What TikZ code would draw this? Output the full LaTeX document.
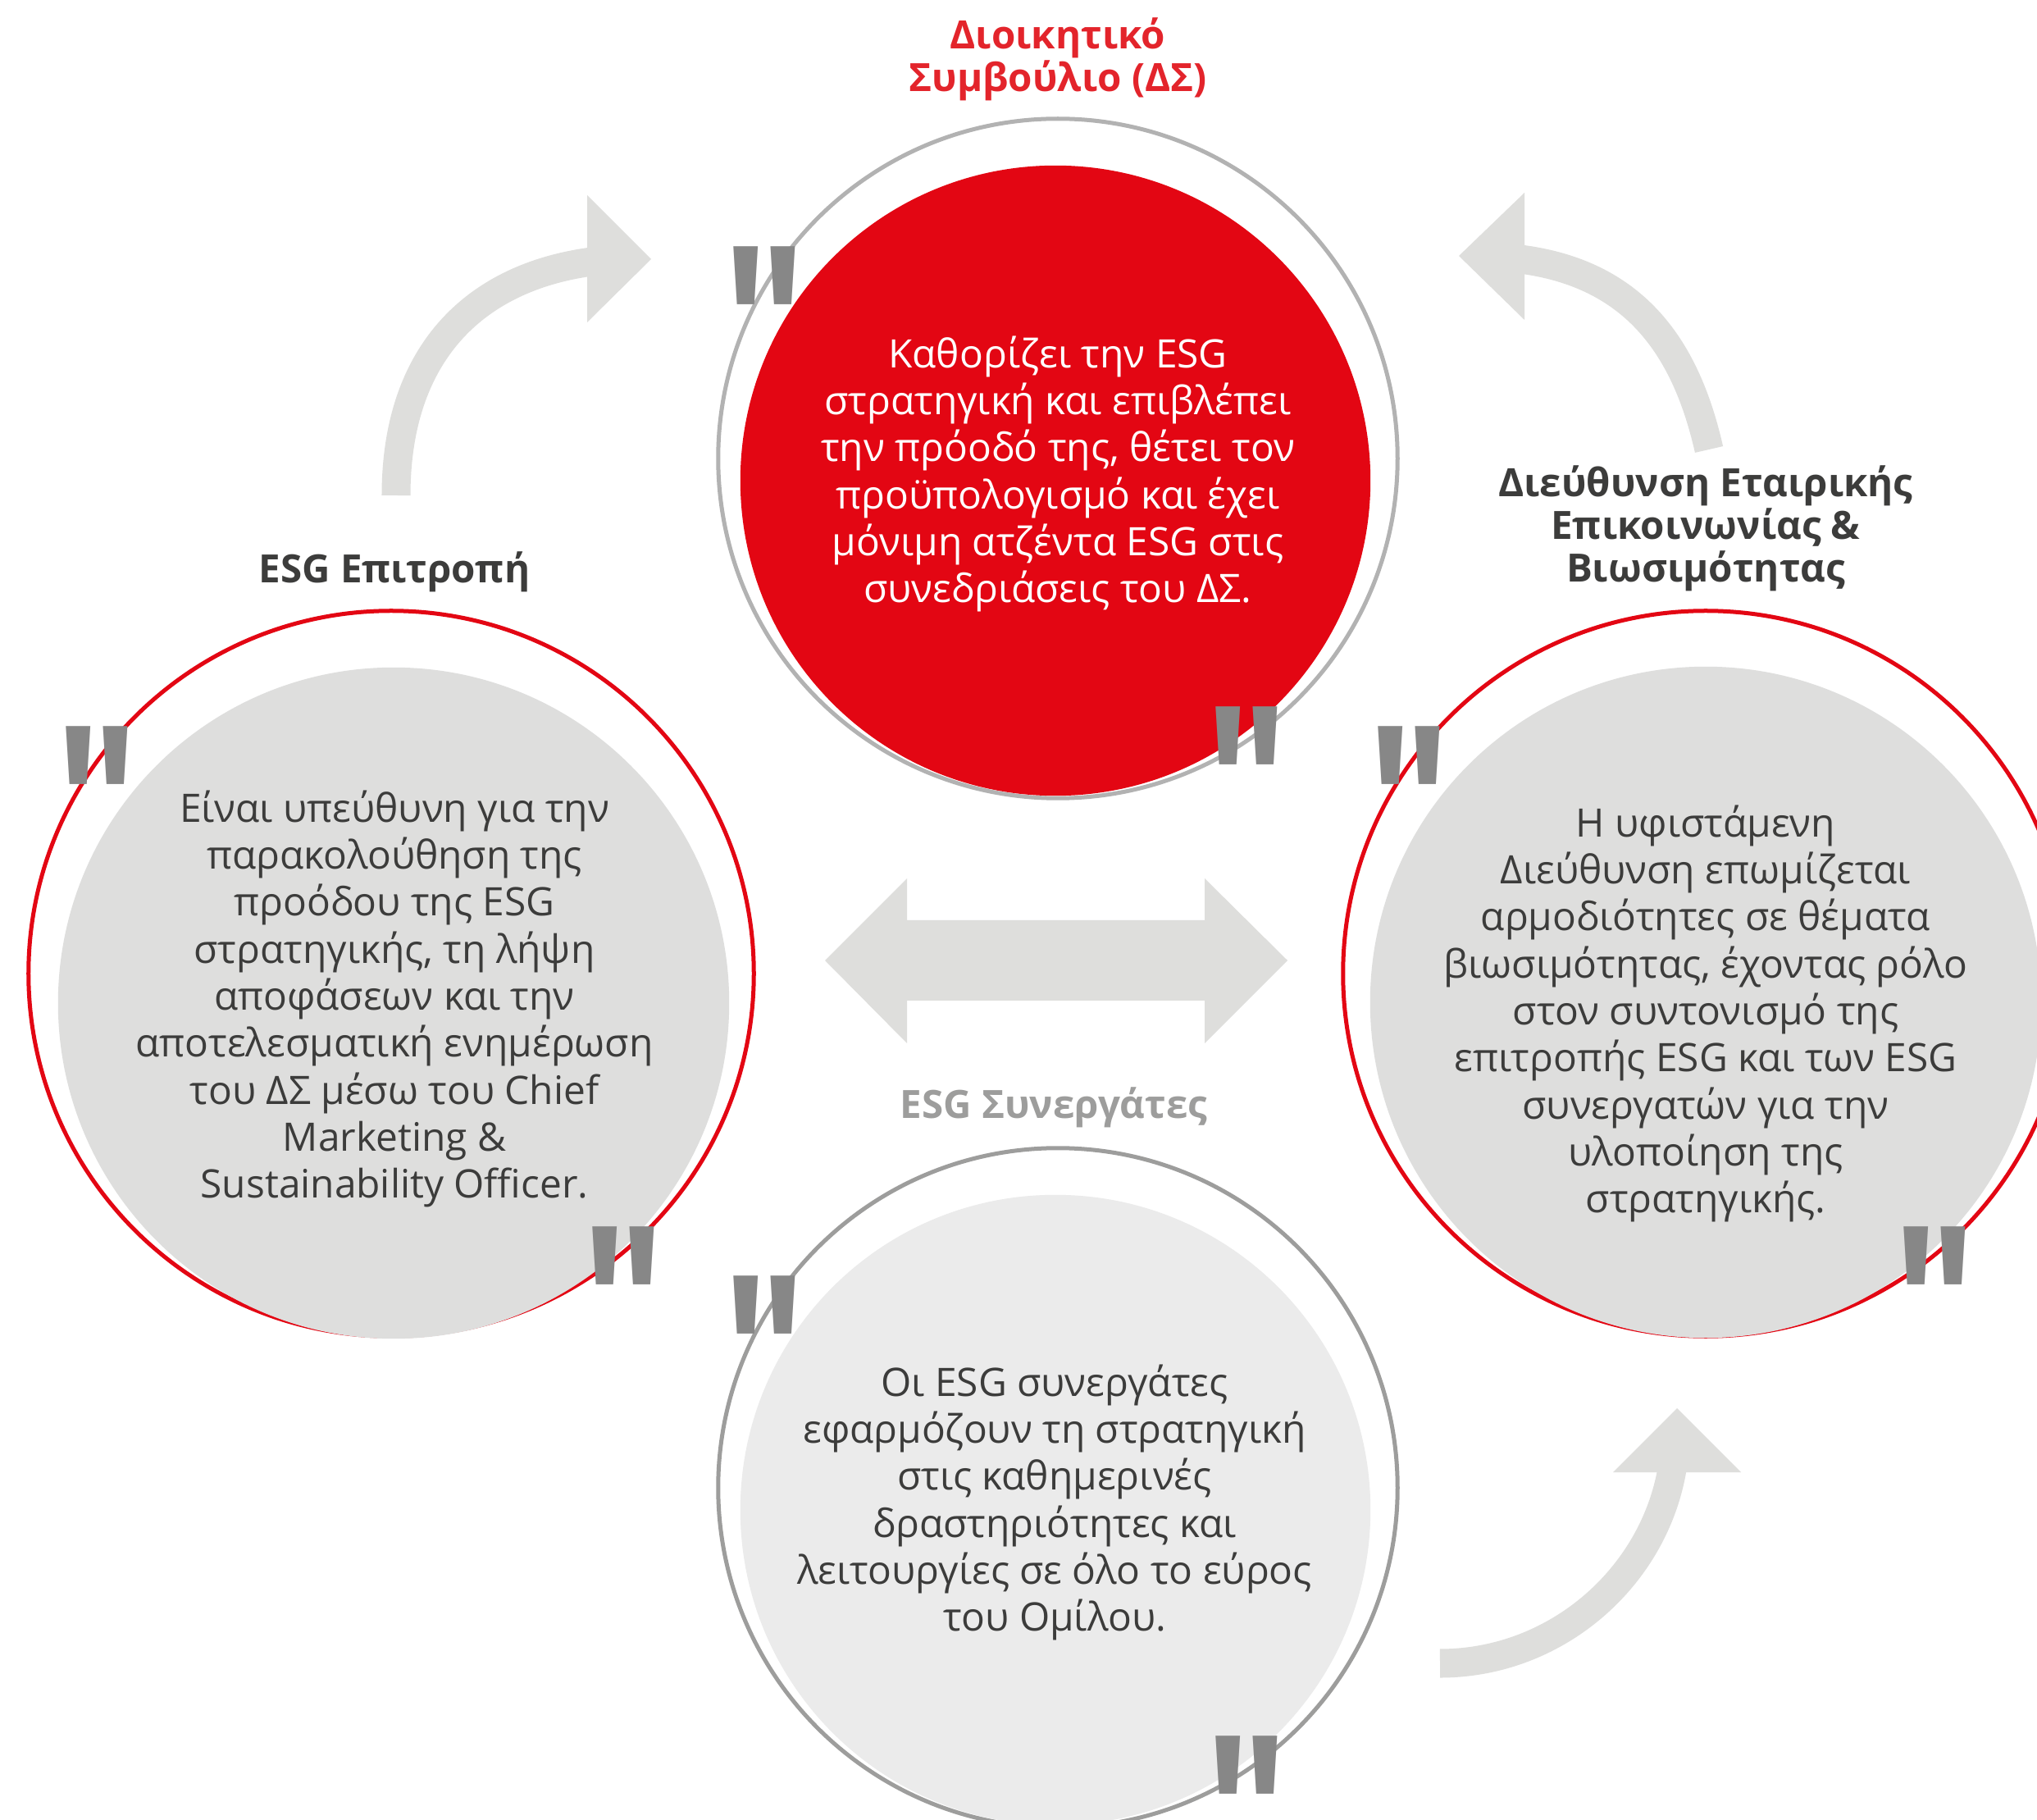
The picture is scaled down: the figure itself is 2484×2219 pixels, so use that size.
\documentclass[tikz,border=0pt]{standalone}
\usepackage{fontspec}
\setmainfont{Open Sans}
\newfontfamily\quotefont{Open Sans}[Ligatures=TeXOff]
\definecolor{esgred}{HTML}{E30613}
\definecolor{titlered}{HTML}{E3242B}
\definecolor{darktext}{HTML}{3C3C3B}
\definecolor{discgray}{HTML}{DEDEDD}
\definecolor{paledisc}{HTML}{EBEBEB}
\definecolor{arrowgray}{HTML}{DEDEDC}
\definecolor{ringgray}{HTML}{B2B2B2}
\definecolor{ringdark}{HTML}{9D9D9C}
\definecolor{quotegray}{HTML}{878787}
\tikzset{
  ring/.style={circle, draw, line width=0.05cm, minimum size=#1, inner sep=0pt},
  disc/.style={circle, minimum size=#1, inner sep=0pt},
  body/.style={align=center, font=\fontsize{13.6}{16.3}\selectfont},
  heading/.style={align=center, font=\fontsize{13.5}{14.8}\selectfont\bfseries},
  quotemark/.style={anchor=north west, inner sep=0pt, text=quotegray,
    font=\quotefont\fontsize{78}{78}\selectfont\bfseries},
  sweep/.style={draw=arrowgray, line width=0.35cm},
  arrowhead/.style={fill=arrowgray}
}
\newcommand{\qmark}{\raisebox{-0.449em}[0.265em][0pt]{\scalebox{0.8}[1]{"}}}
\begin{document}
\begin{tikzpicture}[x=0.01cm, y=-0.01cm]
\path[use as bounding box, fill=white] (0,0) rectangle (2484,2219);

% arrows
\coordinate (tlstart) at (483,604);
\coordinate (tlend) at (730,318);
\draw[sweep] (tlstart) .. controls (483,430) and (580,335) .. (tlend);
\fill[arrowhead] (716,238) -- (794,316) -- (716,393) -- cycle;

\coordinate (trstart) at (2084,548);
\coordinate (trend) at (1845,315);
\draw[sweep] (trstart) .. controls (2055,420) and (1990,330) .. (trend);
\fill[arrowhead] (1859,235) -- (1779,312) -- (1859,390) -- cycle;

\coordinate (brstart) at (1756,2028);
\coordinate (brend) at (2040,1785);
\draw[sweep] (brstart) .. controls (1900,2028) and (2020,1920) .. (brend);
\fill[arrowhead] (1967,1795) -- (2045,1717) -- (2123,1795) -- cycle;

\fill[arrowhead] (1006,1171) -- (1106,1071) -- (1106,1122) -- (1469,1122) -- (1469,1071)
  -- (1570,1171) -- (1469,1272) -- (1469,1220) -- (1106,1220) -- (1106,1272) -- cycle;

% circles
\node[ring=8.28cm, draw=ringgray] (boardring) at (1290,559) {};
\node[disc=7.68cm, fill=esgred] (board) at (1287,586) {};
\node[body, text=white] (boardtext) at (1290,578)
  {Καθορίζει την ESG\\στρατηγική και επιβλέπει\\την πρόοδό της, θέτει τον\\προϋπολογισμό και έχει\\μόνιμη ατζέντα ESG στις\\συνεδριάσεις του ΔΣ.};

\node[ring=8.84cm, draw=esgred] (committeering) at (477,1187) {};
\node[disc=8.18cm, fill=discgray] (committee) at (480,1223) {};
\node[body, text=darktext] (committeetext) at (481,1218)
  {Είναι υπεύθυνη για την\\παρακολούθηση της\\προόδου της ESG\\στρατηγικής, τη λήψη\\αποφάσεων και την\\αποτελεσματική ενημέρωση\\του ΔΣ μέσω του Chief\\Marketing \&\\Sustainability Officer.};

\node[ring=8.84cm, draw=esgred] (directionring) at (2080,1187) {};
\node[disc=8.18cm, fill=discgray] (direction) at (2080,1222) {};
\node[body, text=darktext] (directiontext) at (2080,1236)
  {Η υφιστάμενη\\Διεύθυνση επωμίζεται\\αρμοδιότητες σε θέματα\\βιωσιμότητας, έχοντας ρόλο\\στον συντονισμό της\\επιτροπής ESG και των ESG\\συνεργατών για την\\υλοποίηση της\\στρατηγικής.};

\node[ring=8.28cm, draw=ringdark] (partnersring) at (1290,1814) {};
\node[disc=7.68cm, fill=paledisc] (partners) at (1287,1841) {};
\node[body, text=darktext] (partnerstext) at (1286,1832)
  {Οι ESG συνεργάτες\\εφαρμόζουν τη στρατηγική\\στις καθημερινές\\δραστηριότητες και\\λειτουργίες σε όλο το εύρος\\του Ομίλου.};

% headings
\node[heading, text=titlered] (boardtitle) at (1290,72) {Διοικητικό\\Συμβούλιο (ΔΣ)};
\node[heading, text=darktext] (committeetitle) at (481,697) {ESG Επιτροπή};
\node[heading, text=darktext] (directiontitle) at (2080,644) {Διεύθυνση Εταιρικής\\Επικοινωνίας \&\\Βιωσιμότητας};
\node[heading, text=ringdark] (partnerstitle) at (1285,1350) {ESG Συνεργάτες};

% quote marks
\node[quotemark] (q1) at (880,300) {\qmark};
\node[quotemark] (q2) at (1468,861) {\qmark};
\node[quotemark] (q3) at (66,885) {\qmark};
\node[quotemark] (q4) at (708,1495) {\qmark};
\node[quotemark] (q5) at (1666,885) {\qmark};
\node[quotemark] (q6) at (2307,1495) {\qmark};
\node[quotemark] (q7) at (880,1555) {\qmark};
\node[quotemark] (q8) at (1468,2116) {\qmark};
\end{tikzpicture}
\end{document}
